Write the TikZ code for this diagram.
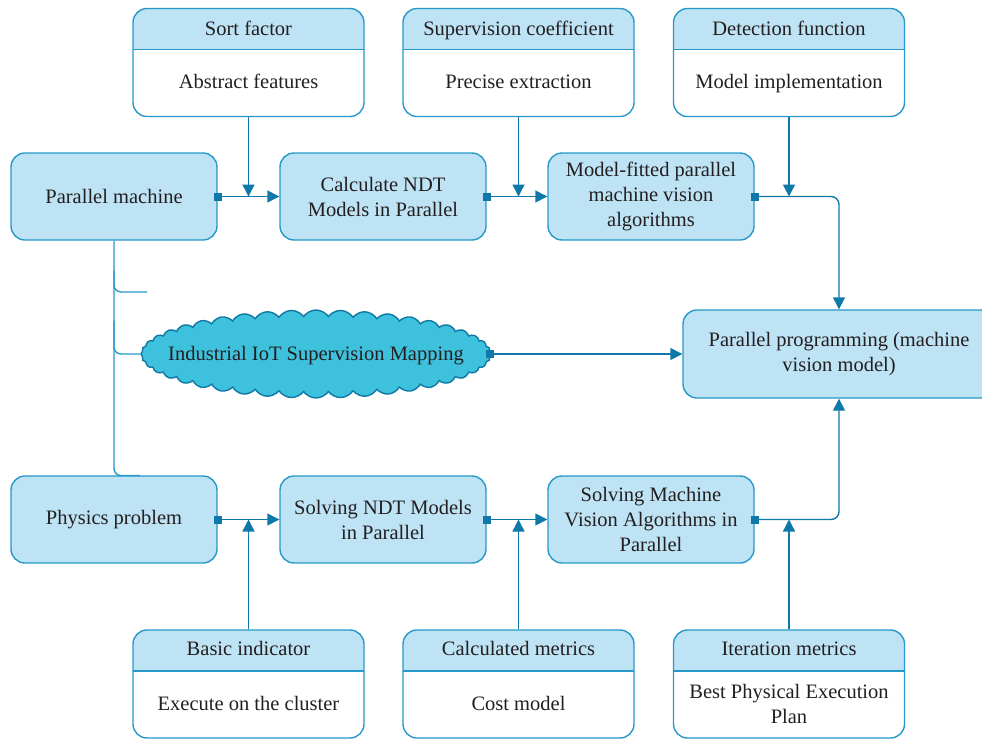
\documentclass[tikz,border=0pt]{standalone}
\usepackage{fontspec}
\setmainfont{Liberation Serif}
\usetikzlibrary{arrows.meta,shapes.symbols}
\definecolor{lb}{RGB}{190,227,244}
\definecolor{bd}{RGB}{38,153,200}
\definecolor{cn}{RGB}{14,120,168}
\definecolor{cfill}{RGB}{62,193,220}
\definecolor{cbd}{RGB}{15,120,165}
\definecolor{tx}{RGB}{35,31,32}
\tikzset{
  every node/.style={text=tx, font=\fontsize{20.5}{25}\selectfont},
  mainbox/.style={draw=bd, fill=lb, line width=1.4pt, rounded corners=14pt,
    minimum width=206pt, minimum height=87pt, align=center, inner sep=0pt},
  hbox/.style={draw=bd, fill=white, line width=1.4pt, rounded corners=14pt,
    minimum width=231pt, minimum height=108pt, inner sep=0pt,
    path picture={\fill[lb,sharp corners] (path picture bounding box.north west) rectangle ([yshift=-41pt]path picture bounding box.north east);
      \draw[bd,line width=1.4pt,sharp corners] ([yshift=-41pt]path picture bounding box.north west) -- ([yshift=-41pt]path picture bounding box.north east);}},
  lbl/.style={align=center, inner sep=0pt},
  one/.style={text height=14pt, text depth=4.5pt},
  conn/.style={draw=cn, line width=1.4pt},
  tip/.style={-{Triangle[length=12pt,width=12pt]}},
  sq/.style={fill=cn, sharp corners, minimum size=8pt, inner sep=0pt, outer sep=0pt},
  cloudnode/.style={cloud, cloud puffs=44, cloud puff arc=110, aspect=4,
    draw=cbd, fill=cfill, line width=1.4pt, minimum width=350pt, minimum height=88pt, inner sep=0pt}
}
\begin{document}
\begin{tikzpicture}[x=1pt,y=-1pt]
\useasboundingbox (0,0) rectangle (982,739);
\begin{scope}
\clip (0,0) rectangle (982,739);
% header boxes top
\node[hbox] (sf) at (248.5,62.5) {};
\node[hbox] (sc) at (518.5,62.5) {};
\node[hbox] (df) at (789,62.5) {};
% header boxes bottom
\node[hbox] (bi) at (248.5,684) {};
\node[hbox] (cm) at (518.5,684) {};
\node[hbox] (im) at (789,684) {};
% main boxes
\node[mainbox] (pm) at (114,196.5) {Parallel machine};
\node[mainbox] (cn1) at (383,196.5) {Calculate NDT\\Models in Parallel};
\node[mainbox] (mf) at (651,196.5) {Model-fitted parallel\\machine vision\\algorithms};
\node[mainbox] (ph) at (114,519.5) {Physics problem};
\node[mainbox] (sn) at (383,519.5) {Solving NDT Models\\in Parallel};
\node[mainbox] (sm) at (651,519.5) {Solving Machine\\Vision Algorithms in\\Parallel};
\node[mainbox, minimum width=312pt, minimum height=88pt] (pg) at (839,354) {Parallel programming (machine\\vision model)};
% cloud
\node[cloudnode] (cl) at (316,354) {};
\node[lbl,one] (clt) at ([yshift=-2pt]cl.center) {Industrial IoT Supervision Mapping};
\end{scope}
% header texts
\node[lbl,one] (sft) at ([yshift=-22.5pt]sf.north) {Sort factor};
\node[lbl,one] (sfb) at ([yshift=-75.5pt]sf.north) {Abstract features};
\node[lbl,one] (sct) at ([yshift=-22.5pt]sc.north) {Supervision coefficient};
\node[lbl,one] (scb) at ([yshift=-75.5pt]sc.north) {Precise extraction};
\node[lbl,one] (dft) at ([yshift=-22.5pt]df.north) {Detection function};
\node[lbl,one] (dfb) at ([yshift=-75.5pt]df.north) {Model implementation};
\node[lbl,one] (bit) at ([yshift=-21.5pt]bi.north) {Basic indicator};
\node[lbl,one] (bib) at ([yshift=-76.5pt]bi.north) {Execute on the cluster};
\node[lbl,one] (cmt) at ([yshift=-21.5pt]cm.north) {Calculated metrics};
\node[lbl,one] (cmb) at ([yshift=-76.5pt]cm.north) {Cost model};
\node[lbl,one] (imt) at ([yshift=-21.5pt]im.north) {Iteration metrics};
\node[lbl] (imb) at ([yshift=-75pt]im.north) {Best Physical Execution\\Plan};
% horizontal connectors
\draw[conn,tip] (pm.east) node[sq]{} -- (cn1.west);
\draw[conn,tip] (cn1.east) node[sq]{} -- (mf.west);
\draw[conn,tip,rounded corners=8pt] (mf.east) -| (pg.north);
\node[sq] (q1) at (mf.east) {};
\draw[conn,tip] (ph.east) node[sq]{} -- (sn.west);
\draw[conn,tip] (sn.east) node[sq]{} -- (sm.west);
\draw[conn,tip,rounded corners=8pt] (sm.east) -| (pg.south);
\node[sq] (q2) at (sm.east) {};
\draw[conn,tip] ([xshift=-2pt]cl.east) node[sq]{} -- (pg.west);
% vertical connectors
\draw[conn,tip] (sf.south) -- (sf.south |- pm.east);
\draw[conn,tip] (sc.south) -- (sc.south |- pm.east);
\draw[conn,tip] (df.south) -- (df.south |- pm.east);
\draw[conn,tip] (bi.north) -- (bi.north |- ph.east);
\draw[conn,tip] (cm.north) -- (cm.north |- ph.east);
\draw[conn,tip] (im.north) -- (im.north |- ph.east);
% left tree
\coordinate (br) at (147,292);
\coordinate (bb) at (140,475.5);
\draw[conn,draw=bd,rounded corners=7pt] (pm.south) |- (bb);
\draw[conn,draw=bd,rounded corners=7pt] ([yshift=-30pt]pm.south) |- (br);
\draw[conn,draw=bd,rounded corners=7pt] ([yshift=-80pt]pm.south) |- (cl.west);
\end{tikzpicture}
\end{document}
